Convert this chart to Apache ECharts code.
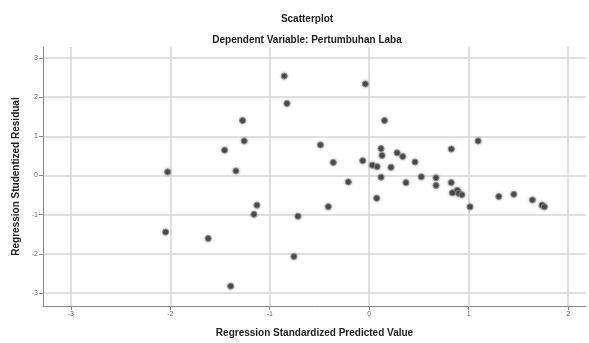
<!DOCTYPE html>
<html>
<head>
<meta charset="utf-8">
<script src="https://cdn.jsdelivr.net/npm/echarts@6/dist/echarts.min.js"></script>
<style>
  html, body { margin: 0; padding: 0; background: #fff; }
  #chart { width: 589px; height: 343px; }
</style>
</head>
<body>
<div id="chart"></div>
<script>
// standardized predicted value (x) vs studentized residual (y)
const predicted = [
  -0.854, -0.039, -0.827, -1.273, 0.154, -1.257, -1.454, -0.49, 0.119, 0.129,
  -0.361, -0.065, 0.031, 0.08, 0.219, -2.027, -1.34, 0.119, -0.21, 0.075,
  -1.129, -0.411, -1.159, -0.716, -2.047, -1.619, -0.757, -1.393, 1.095, 0.826,
  0.28, 0.337, 0.461, 0.524, 0.672, 0.37, 0.825, 0.672, 0.836, 0.886,
  0.898, 0.932, 1.014, 1.303, 1.454, 1.641, 1.738, 1.762
];
const residual = [
  2.538, 2.337, 1.84, 1.404, 1.404, 0.882, 0.648, 0.781, 0.688, 0.512,
  0.335, 0.378, 0.265, 0.227, 0.209, 0.093, 0.118, -0.043, -0.164, -0.58,
  -0.756, -0.794, -0.991, -1.041, -1.444, -1.606, -2.067, -2.823, 0.882, 0.676,
  0.58, 0.487, 0.345, -0.033, -0.058, -0.181, -0.181, -0.252, -0.441, -0.378,
  -0.454, -0.492, -0.799, -0.537, -0.479, -0.623, -0.756, -0.799
];
const xTicks = [-3, -2, -1, 0, 1, 2];
const yTicks = [-3, -2, -1, 0, 1, 2, 3];

const points = predicted.map((x, i) => [x, residual[i]]);

const labelStyle = { color: "#666", fontSize: 7, fontFamily: "Liberation Sans" };
const nameStyle = { color: "#222", fontSize: 10, fontWeight: "bold", fontFamily: "Liberation Sans" };

const myChart = echarts.init(document.getElementById("chart"), null, { renderer: "canvas" });
myChart.setOption({
  animation: false,
  backgroundColor: "#fff",
  title: [
    {
      text: "Scatterplot",
      left: 302,
      top: 9,
      textAlign: "center",
      textStyle: { fontSize: 10, fontWeight: "bold", color: "#222", fontFamily: "Liberation Sans" },
    },
    {
      text: "Dependent Variable: Pertumbuhan Laba",
      left: 302,
      top: 30,
      textAlign: "center",
      textStyle: { fontSize: 10, fontWeight: "bold", color: "#222", fontFamily: "Liberation Sans" },
    },
  ],
  grid: { left: 43, right: 3, top: 47, bottom: 34 },
  xAxis: {
    type: "value",
    min: -3.28,
    max: 2.18,
    name: "Regression Standardized Predicted Value",
    nameLocation: "middle",
    nameGap: 22,
    nameTextStyle: nameStyle,
    axisLine: { show: true, onZero: false, lineStyle: { color: "#8a8a8a", width: 1 } },
    axisTick: { show: true, length: 4, customValues: xTicks, lineStyle: { color: "#8a8a8a" } },
    axisLabel: { customValues: xTicks, margin: 5, ...labelStyle },
    splitLine: { show: true, lineStyle: { color: "#d6d6d6", width: 1.5 } },
  },
  yAxis: {
    type: "value",
    min: -3.33,
    max: 3.28,
    name: "Regression Studentized Residual",
    nameLocation: "middle",
    nameGap: 22,
    nameTextStyle: nameStyle,
    axisLine: { show: true, onZero: false, lineStyle: { color: "#8a8a8a", width: 1 } },
    axisTick: { show: true, length: 4, customValues: yTicks, lineStyle: { color: "#8a8a8a" } },
    axisLabel: { customValues: yTicks, margin: 5, ...labelStyle },
    splitLine: { show: true, lineStyle: { color: "#d6d6d6", width: 1.5 } },
  },
  series: [
    {
      type: "scatter",
      data: points,
      symbol: "circle",
      symbolSize: 6,
      itemStyle: {
        color: "#4d4d4d",
        borderColor: "#8c8c8c",
        borderWidth: 1,
        shadowColor: "rgba(0,0,0,0.25)",
        shadowBlur: 3,
        opacity: 1,
      },
    },
  ],
});
</script>
</body>
</html>
